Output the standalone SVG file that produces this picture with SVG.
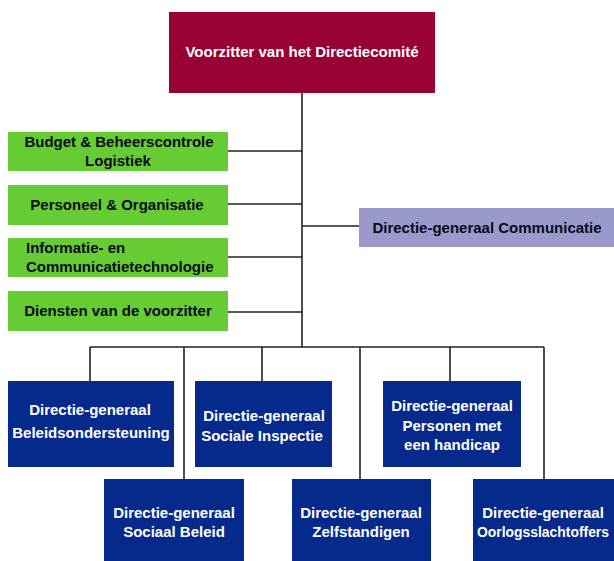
<svg xmlns="http://www.w3.org/2000/svg" width="614" height="561" viewBox="0 0 614 561">
<style>
.t{font-family:"Liberation Sans",Arial,sans-serif;font-weight:bold;font-size:15px}
.w{fill:#ffffff}
.d{fill:#0a0a1a}
.c{text-anchor:middle}
.blue{fill:#062a8c}
.green{fill:#66cc33}
.ln{stroke:#222222;stroke-width:1.6;fill:none}
.s{font-size:14px}
</style>
<rect width="614" height="561" fill="#ffffff"/>
<g id="connectors">
<path class="ln" d="M302 93V347M228 151H302M228 204H302M228 257H302M228 312H302M302 226H359M90 347H544M90 347V381M184 347V479M262 347V381M360 347V479M450 347V381M544 347V479"/>
</g>
<g id="voorzitter">
<rect x="169" y="12" width="266" height="81" fill="#990033"/>
<text class="t w c" x="302" y="57">Voorzitter van het Directiecomité</text>
</g>
<g id="budget">
<rect class="green" x="8" y="132" width="220" height="39"/>
<text class="t d c" x="119" y="147">Budget &amp; Beheerscontrole</text>
<text class="t d c" x="118" y="166">Logistiek</text>
</g>
<g id="personeel">
<rect class="green" x="8" y="185" width="220" height="40"/>
<text class="t d c" x="117" y="210">Personeel &amp; Organisatie</text>
</g>
<g id="ict">
<rect class="green" x="8" y="238" width="220" height="39"/>
<text class="t d" x="26" y="253">Informatie- en</text>
<text class="t d" x="26" y="272">Communicatietechnologie</text>
</g>
<g id="diensten">
<rect class="green" x="8" y="291" width="220" height="40"/>
<text class="t d c" x="118" y="316">Diensten van de voorzitter</text>
</g>
<g id="communicatie">
<rect x="359" y="208" width="255" height="39" fill="#9999cc"/>
<text class="t d c" x="487" y="233">Directie-generaal Communicatie</text>
</g>
<g id="beleidsondersteuning">
<rect class="blue" x="8" y="381" width="166" height="86"/>
<text class="t w c" x="90" y="415">Directie-generaal</text>
<text class="t w c" x="91" y="438">Beleidsondersteuning</text>
</g>
<g id="sociale-inspectie">
<rect class="blue" x="195" y="381" width="137" height="86"/>
<text class="t w c" x="264" y="421">Directie-generaal</text>
<text class="t w c" x="262" y="441">Sociale Inspectie</text>
</g>
<g id="handicap">
<rect class="blue" x="383" y="381" width="138" height="86"/>
<text class="t w c" x="452" y="411">Directie-generaal</text>
<text class="t w c" x="452" y="431">Personen met</text>
<text class="t w c" x="452" y="450">een handicap</text>
</g>
<g id="sociaal-beleid">
<rect class="blue" x="104" y="479" width="140" height="82"/>
<text class="t w c" x="174" y="518">Directie-generaal</text>
<text class="t w c" x="174" y="537">Sociaal Beleid</text>
</g>
<g id="zelfstandigen">
<rect class="blue" x="292" y="479" width="139" height="82"/>
<text class="t w c" x="361" y="518">Directie-generaal</text>
<text class="t w c" x="361" y="537">Zelfstandigen</text>
</g>
<g id="oorlogsslachtoffers">
<rect class="blue" x="473" y="479" width="141" height="82"/>
<text class="t w c" x="543" y="518">Directie-generaal</text>
<text class="t w c s" x="543" y="537" textLength="132" lengthAdjust="spacingAndGlyphs">Oorlogsslachtoffers</text>
</g>
</svg>
